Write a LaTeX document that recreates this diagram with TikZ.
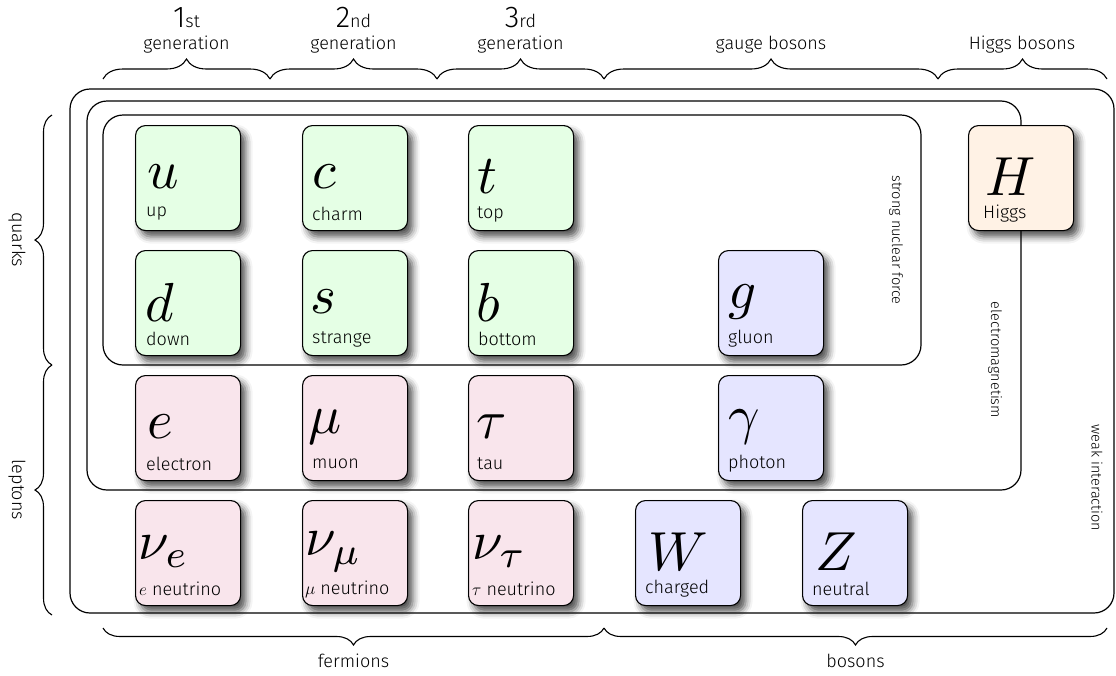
\documentclass[tikz,border=0pt]{standalone}
\usepackage{fontspec}
\setmainfont{Fira Sans}[UprightFont={* Light}]
\usetikzlibrary{calc,shadows.blur,decorations.pathreplacing}

\tikzset{
  region/.style={draw, line width=1.2pt, rounded corners=20pt},
  particle/.style={draw, line width=1.1pt, rounded corners=10pt,
    minimum width=105pt, minimum height=105pt, inner sep=0pt, anchor=north west,
    blur shadow={shadow xshift=5pt, shadow yshift=-6pt, shadow blur radius=7pt, shadow opacity=70}},
  quark/.style={particle, fill=green!10},
  lepton/.style={particle, fill=purple!10},
  gauge/.style={particle, fill=blue!10},
  scalar/.style={particle, fill=orange!10},
  sym/.style={anchor=west, inner sep=0pt, font=\fontsize{10}{12}\selectfont, scale=5.5},
  pname/.style={anchor=west, inner sep=0pt, font=\fontsize{18}{20}\selectfont},
  gbrace/.style={decorate, line width=1.1pt, decoration={brace, amplitude=20pt}},
  grouplabel/.style={font=\fontsize{18}{20}\selectfont, inner sep=0pt},
  forcelabel/.style={font=\fontsize{14.5}{16}\selectfont, rotate=-90, inner sep=0pt},
}

\begin{document}
\begin{tikzpicture}[x=1pt,y=-1pt]
\useasboundingbox (0,0) rectangle (1116,675);

% interaction regions: weak, electromagnetic, strong
\draw[region] (70,89) rectangle (1114,613);
\draw[region] (87,101) rectangle (1021,490);
\draw[region] (103,115) rectangle (921,365);

\node[forcelabel] (strong) at (896,240) {strong nuclear force};
\node[forcelabel] (em) at (995,360) {electromagnetism};
\node[forcelabel] (weak) at (1097,478) {weak interaction};

% quarks
\node[quark] (u) at (135,125) {};
\node[quark] (c) at (302,125) {};
\node[quark] (t) at (468,125) {};
\node[quark] (d) at (135,250) {};
\node[quark] (s) at (302,250) {};
\node[quark] (b) at (468,250) {};
% leptons
\node[lepton] (e) at (135,375) {};
\node[lepton] (mu) at (302,375) {};
\node[lepton] (tau) at (468,375) {};
\node[lepton] (ne) at (135,500) {};
\node[lepton] (nmu) at (302,500) {};
\node[lepton] (ntau) at (468,500) {};
% gauge bosons
\node[gauge] (g) at (718,250) {};
\node[gauge] (gamma) at (718,375) {};
\node[gauge] (W) at (635,500) {};
\node[gauge] (Z) at (802,500) {};
% scalar boson
\node[scalar] (H) at (968,125) {};

% symbols
\node[sym] (u-sym) at ($(u.north west)+(11,52)$) {$u$};
\node[sym] (c-sym) at ($(c.north west)+(9,52)$) {$c$};
\node[sym] (t-sym) at ($(t.north west)+(8,52)$) {$t$};
\node[sym] (d-sym) at ($(d.north west)+(9,52)$) {$d$};
\node[sym] (s-sym) at ($(s.north west)+(7,52)$) {$s$};
\node[sym] (b-sym) at ($(b.north west)+(7,52)$) {$b$};
\node[sym] (e-sym) at ($(e.north west)+(11,52)$) {$e$};
\node[sym] (mu-sym) at ($(mu.north west)+(5,52)$) {$\mu$};
\node[sym] (tau-sym) at ($(tau.north west)+(7,52)$) {$\tau$};
\node[sym] (ne-sym) at ($(ne.north west)+(2,52)$) {$\nu_e$};
\node[sym] (nmu-sym) at ($(nmu.north west)+(2,52)$) {$\nu_\mu$};
\node[sym] (ntau-sym) at ($(ntau.north west)+(3,52)$) {$\nu_\tau$};
\node[sym] (g-sym) at ($(g.north west)+(9,52)$) {$g$};
\node[sym] (gamma-sym) at ($(gamma.north west)+(9,52)$) {$\gamma$};
\node[sym] (W-sym) at ($(W.north west)+(12,52)$) {$W$};
\node[sym] (Z-sym) at ($(Z.north west)+(12,52)$) {$Z$};
\node[sym] (H-sym) at ($(H.north west)+(16,52)$) {$H$};

% names
\node[pname] (u-name) at ($(u.north west)+(11,89)$) {up};
\node[pname] (c-name) at ($(c.north west)+(10,89)$) {charm};
\node[pname] (t-name) at ($(t.north west)+(9,89)$) {top};
\node[pname] (d-name) at ($(d.north west)+(11,89)$) {down};
\node[pname] (s-name) at ($(s.north west)+(10,89)$) {strange};
\node[pname] (b-name) at ($(b.north west)+(10,89)$) {bottom};
\node[pname] (e-name) at ($(e.north west)+(11,89)$) {electron};
\node[pname] (mu-name) at ($(mu.north west)+(10,89)$) {muon};
\node[pname] (tau-name) at ($(tau.north west)+(9,89)$) {tau};
\node[pname] (ne-name) at ($(ne.north west)+(4,89)$) {$e$ neutrino};
\node[pname] (nmu-name) at ($(nmu.north west)+(3,89)$) {$\mu$ neutrino};
\node[pname] (ntau-name) at ($(ntau.north west)+(4,89)$) {$\tau$ neutrino};
\node[pname] (g-name) at ($(g.north west)+(10,89)$) {gluon};
\node[pname] (gamma-name) at ($(gamma.north west)+(10,89)$) {photon};
\node[pname] (W-name) at ($(W.north west)+(10,89)$) {charged};
\node[pname] (Z-name) at ($(Z.north west)+(10,89)$) {neutral};
\node[pname] (H-name) at ($(H.north west)+(15,89)$) {Higgs};

% column braces
\draw[gbrace] (103,79) -- (270,79);
\draw[gbrace] (270,79) -- (437,79);
\draw[gbrace] (437,79) -- (604,79);
\draw[gbrace] (604,79) -- (938,79);
\draw[gbrace] (938,79) -- (1107,79);

\node[inner sep=0pt, anchor=base] (gen1-n) at (186.5,27) {\fontsize{30}{31}\selectfont 1\fontsize{18}{20}\selectfont st};
\node[inner sep=0pt, anchor=base] (gen2-n) at (353.5,27) {\fontsize{30}{31}\selectfont 2\fontsize{18}{20}\selectfont nd};
\node[inner sep=0pt, anchor=base] (gen3-n) at (520.5,27) {\fontsize{30}{31}\selectfont 3\fontsize{18}{20}\selectfont rd};
\node[grouplabel, anchor=base] (gen1) at (186.5,49) {generation};
\node[grouplabel, anchor=base] (gen2) at (353.5,49) {generation};
\node[grouplabel, anchor=base] (gen3) at (520.5,49) {generation};
\node[grouplabel, anchor=base] (gauge-l) at (771,49) {gauge bosons};
\node[grouplabel, anchor=base] (higgs-l) at (1022,49) {Higgs bosons};

% row braces
\draw[gbrace, decoration={amplitude=17pt}] (52,365) -- (52,115);
\draw[gbrace, decoration={amplitude=17pt}] (52,615) -- (52,365);
\node[grouplabel, rotate=-90] (quarks) at (17,240) {quarks};
\node[grouplabel, rotate=-90] (leptons) at (17,490) {leptons};

% fermion / boson braces
\draw[gbrace, decoration={amplitude=17pt}] (604,628) -- (103,628);
\draw[gbrace, decoration={amplitude=17pt}] (1107,628) -- (604,628);
\node[grouplabel, anchor=base] (fermions) at (353.5,667) {fermions};
\node[grouplabel, anchor=base] (bosons) at (855.5,667) {bosons};
\end{tikzpicture}
\end{document}
